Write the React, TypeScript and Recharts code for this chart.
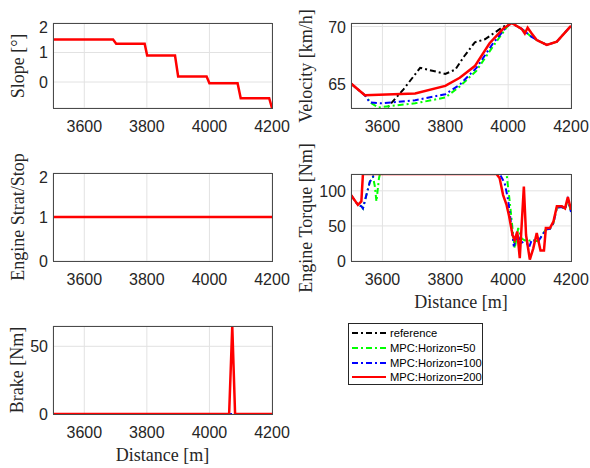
import { CartesianGrid, Line, LineChart, XAxis, YAxis } from "recharts";

const xTicks = [3600, 3800, 4000, 4200];

// slope [deg]
const slopeDist = [3500, 3692, 3702, 3793, 3801, 3890, 3900, 3991, 4000, 4090, 4100, 4191, 4200];
const slopeVal = [1.44, 1.44, 1.3, 1.3, 0.9, 0.9, 0.19, 0.19, -0.04, -0.04, -0.55, -0.55, -0.88];

// velocity [km/h]
const velRefDist = [3598, 3667, 3720, 3800, 3832, 3859, 3894, 3926, 3984, 4008];
const velRefVal = [62.5, 64.6, 66.45, 65.93, 66.3, 67.4, 68.64, 68.9, 69.97, 70.3];
const velH50Dist = [3500, 3544, 3565, 3587, 3704, 3800, 3846, 3899, 3952, 4000, 4011, 4043, 4075, 4091, 4123, 4155, 4200];
const velH50Val = [65.1, 64.1, 63.4, 63.05, 63.4, 63.9, 64.85, 66.2, 68.3, 70.1, 70.3, 69.8, 69.1, 68.84, 68.42, 68.7, 70.06];
const velH100Dist = [3500, 3544, 3560, 3597, 3704, 3800, 3846, 3899, 3952, 3995, 4011, 4043, 4075, 4091, 4123, 4155, 4200];
const velH100Val = [65.1, 64.1, 63.47, 63.4, 63.67, 64.18, 65.0, 66.44, 68.56, 69.97, 70.3, 69.8, 69.1, 68.84, 68.42, 68.7, 70.06];
const velH200Dist = [3500, 3544, 3704, 3800, 3846, 3894, 3941, 3984, 4011, 4043, 4053, 4062, 4075, 4091, 4123, 4155, 4200];
const velH200Val = [65.1, 64.1, 64.24, 64.9, 65.6, 66.6, 68.56, 69.8, 70.3, 69.8, 69.4, 69.9, 69.4, 68.84, 68.42, 68.7, 70.06];

// engine start/stop
const engDist = [3500, 4200];
const engVal = [1, 1];

// engine torque [Nm]
const trqH50Dist = [3500, 3522, 3533, 3538, 3549, 3560, 3570, 3576, 3581, 3589, 3592, 3995, 4005, 4016, 4021, 4032, 4043, 4059, 4075, 4096, 4120, 4133, 4144, 4155, 4171, 4181, 4190, 4200];
const trqH50Val = [94, 80, 78, 75, 94, 113, 120, 106, 85, 118, 124, 124, 85, 37, 18, 47, 32, 28, 30, 28, 45, 46, 54, 76, 77, 74, 88, 70];
const trqH100Dist = [3500, 3522, 3533, 3538, 3549, 3560, 3570, 3574, 3973, 3989, 4000, 4011, 4018, 4029, 4043, 4059, 4064, 4075, 4096, 4120, 4133, 4144, 4155, 4171, 4181, 4190, 4200];
const trqH100Val = [94, 80, 78, 75, 94, 113, 120, 124, 124, 111, 87, 47, 21, 37, 26, 30, 16, 30, 28, 45, 46, 54, 76, 77, 74, 88, 70];
const trqH200Dist = [3500, 3522, 3533, 3538, 3963, 3973, 3984, 3995, 4003, 4014, 4021, 4029, 4037, 4050, 4057, 4069, 4080, 4091, 4103, 4114, 4120, 4133, 4144, 4155, 4171, 4181, 4190, 4200];
const trqH200Val = [94, 80, 85, 124, 124, 118, 94, 80, 64, 37, 30, 42, 4, 106, 37, 2, 18, 40, 15, 15, 47, 47, 56, 78, 78, 75, 91, 73];

// brake [Nm]
const brkH100Dist = [3500, 4200];
const brkH100Val = [0, 0];
const brkH200Dist = [3500, 4063, 4073, 4082, 4200];
const brkH200Val = [0, 0, 65, 0, 0];

const BLACK = "#000000";
const GREEN = "#00ff00";
const BLUE = "#0000ff";
const RED = "#ff0000";
const DASHDOT = "6 3 2 3";

const legendItems = [
  { name: "reference", color: BLACK, dash: DASHDOT },
  { name: "MPC:Horizon=50", color: GREEN, dash: DASHDOT },
  { name: "MPC:Horizon=100", color: BLUE, dash: DASHDOT },
  { name: "MPC:Horizon=200", color: RED, dash: undefined },
];

type Series = { d: number[]; v: number[]; color: string; dash?: string; width: number };

const zip = (d: number[], v: number[]) => d.map((x, i) => ({ d: x, v: v[i] }));

const tickStyle = { fill: "#262626", fontSize: 16, fontFamily: "Liberation Sans, Arial, sans-serif" };
const labelFont = "Liberation Serif, 'Times New Roman', serif";
const AXIS = "#4a4a4a";

type PanelProps = {
  x: number;
  y: number;
  w: number;
  h: number;
  domain: [number, number];
  ticks: number[];
  series: Series[];
  yLabel: string;
  labelX: number;
  xLabel?: boolean;
};

function Panel({ x, y, w, h, domain, ticks, series, yLabel, labelX, xLabel }: PanelProps) {
  return (
    <>
      <div style={{ position: "absolute", left: x - 53, top: y - 5 }}>
        <LineChart width={53 + w + 25} height={5 + h + 30} margin={{ top: 5, right: 25, bottom: 0, left: 0 }}>
          <CartesianGrid stroke="#e2e2e2" />
          <XAxis
            dataKey="d"
            type="number"
            domain={[3500, 4200]}
            ticks={xTicks}
            allowDataOverflow
            axisLine={false}
            tickSize={0}
            tickMargin={13}
            height={30}
            tick={tickStyle}
          />
          <YAxis
            type="number"
            domain={domain}
            ticks={ticks}
            allowDataOverflow
            axisLine={false}
            width={53}
            tickSize={0}
            tickMargin={5}
            tick={tickStyle}
          />
          {series.map((s, i) => (
            <Line
              key={i}
              data={zip(s.d, s.v)}
              dataKey="v"
              type="linear"
              dot={false}
              stroke={s.color}
              strokeWidth={s.width}
              strokeDasharray={s.dash}
              isAnimationActive={false}
            />
          ))}
        </LineChart>
      </div>
      {/* axes box */}
      <div
        style={{
          position: "absolute",
          left: x - 0.5,
          top: y - 0.5,
          width: w + 1,
          height: h + 1,
          border: `1px solid ${AXIS}`,
          boxSizing: "border-box",
          pointerEvents: "none",
        }}
      />
      <div
        style={{
          position: "absolute",
          left: labelX,
          top: y + h / 2,
          transform: "translate(-50%, -50%) rotate(-90deg)",
          whiteSpace: "nowrap",
          fontFamily: labelFont,
          fontSize: 18,
          color: "#262626",
        }}
      >
        {yLabel}
      </div>
      {xLabel && (
        <div
          style={{
            position: "absolute",
            left: x + w / 2,
            top: y + h + 31,
            transform: "translateX(-50%)",
            whiteSpace: "nowrap",
            fontFamily: labelFont,
            fontSize: 18,
            color: "#262626",
            lineHeight: "20px",
          }}
        >
          Distance [m]
        </div>
      )}
    </>
  );
}

export default function App() {
  return (
    <div style={{ position: "absolute", left: 0, top: 0, width: 590, height: 468, background: "#fff", overflow: "hidden" }}>
      <Panel
        x={53}
        y={23}
        w={219}
        h={85}
        domain={[-0.88, 2]}
        ticks={[0, 1, 2]}
        yLabel="Slope [°]"
        labelX={18}
        series={[{ d: slopeDist, v: slopeVal, color: RED, width: 2.5 }]}
      />
      <Panel
        x={351}
        y={23}
        w={220}
        h={85}
        domain={[63, 70.3]}
        ticks={[65, 70]}
        yLabel="Velocity [km/h]"
        labelX={306}
        series={[
          { d: velRefDist, v: velRefVal, color: BLACK, dash: DASHDOT, width: 2 },
          { d: velH50Dist, v: velH50Val, color: GREEN, dash: DASHDOT, width: 2 },
          { d: velH100Dist, v: velH100Val, color: BLUE, dash: DASHDOT, width: 2 },
          { d: velH200Dist, v: velH200Val, color: RED, width: 2.5 },
        ]}
      />
      <Panel
        x={53}
        y={173}
        w={219}
        h={88}
        domain={[0, 2]}
        ticks={[0, 1, 2]}
        yLabel="Engine Strat/Stop"
        labelX={18}
        series={[{ d: engDist, v: engVal, color: RED, width: 2.5 }]}
      />
      <Panel
        x={351}
        y={174}
        w={220}
        h={87}
        domain={[0, 124]}
        ticks={[0, 50, 100]}
        yLabel="Engine Torque [Nm]"
        labelX={306}
        xLabel
        series={[
          { d: trqH50Dist, v: trqH50Val, color: GREEN, dash: DASHDOT, width: 2 },
          { d: trqH100Dist, v: trqH100Val, color: BLUE, dash: DASHDOT, width: 2 },
          { d: trqH200Dist, v: trqH200Val, color: RED, width: 2.5 },
        ]}
      />
      <Panel
        x={53}
        y={326}
        w={219}
        h={88}
        domain={[0, 65]}
        ticks={[0, 50]}
        yLabel="Brake [Nm]"
        labelX={17}
        xLabel
        series={[
          { d: brkH100Dist, v: brkH100Val, color: BLUE, dash: DASHDOT, width: 2 },
          { d: brkH200Dist, v: brkH200Val, color: RED, width: 2.5 },
        ]}
      />
      <div
        style={{
          position: "absolute",
          left: 348,
          top: 323,
          width: 135,
          height: 62,
          border: "1px solid #262626",
          background: "#fff",
          boxSizing: "border-box",
          paddingTop: 2,
        }}
      >
        {legendItems.map((it) => (
          <div key={it.name} style={{ display: "flex", alignItems: "center", height: 14.7 }}>
            <svg width={38} height={8} style={{ marginLeft: 3 }}>
              <line x1={0} y1={4} x2={34} y2={4} stroke={it.color} strokeWidth={2} strokeDasharray={it.dash} />
            </svg>
            <span style={{ fontFamily: "Liberation Sans, Arial, sans-serif", fontSize: 11.2, color: "#000", whiteSpace: "nowrap" }}>
              {it.name}
            </span>
          </div>
        ))}
      </div>
    </div>
  );
}
